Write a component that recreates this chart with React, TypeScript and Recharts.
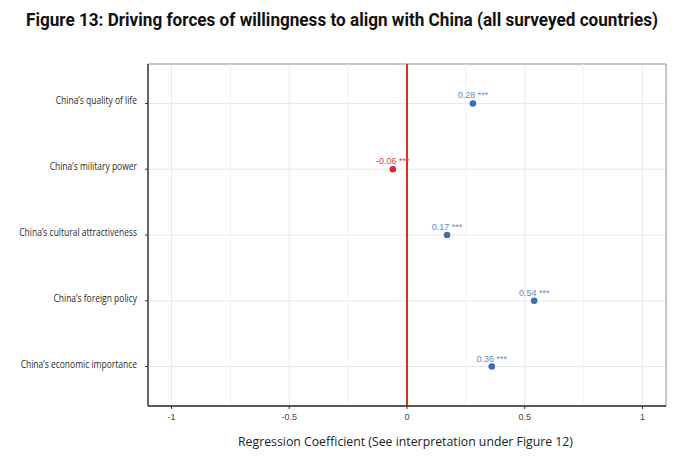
import React from "react";
import {
  ScatterChart, Scatter, XAxis, YAxis, CartesianGrid,
  ReferenceLine, ReferenceArea,
} from "recharts";

// factors from bottom to top of the plot
const factors = [
  "China’s economic importance",
  "China’s foreign policy",
  "China’s cultural attractiveness",
  "China’s military power",
  "China’s quality of life",
];
const coefficients = [0.36, 0.54, 0.17, -0.06, 0.28];
const stars = ["***", "***", "***", "***", "***"];
const xTicks = [-1, -0.5, 0, 0.5, 1];
const xMinorTicks = [-0.75, -0.25, 0.25, 0.75];
const yTicks = [1, 2, 3, 4, 5];

const data = factors.map((factor, i) => ({
  factor,
  pos: i + 1,
  coef: coefficients[i],
  sig: stars[i],
}));

const BLUE_DOT = "#3d6db3";
const BLUE_TXT = "#5d8cc8";
const RED_DOT = "#d42b2b";
const RED_TXT = "#d9413a";

const CoefDot = (props: any) => {
  const { cx, cy, payload } = props;
  if (cx == null || cy == null) return null;
  const neg = payload.coef < 0;
  return (
    <g>
      <text
        x={cx}
        y={cy - 5}
        textAnchor="middle"
        fontSize={9}
        fontFamily="'Liberation Sans', Arial, sans-serif"
        fill={neg ? RED_TXT : BLUE_TXT}
      >
        {`${payload.coef.toFixed(2)} ${payload.sig}`}
      </text>
      <circle cx={cx} cy={cy} r={3.3} fill={neg ? RED_DOT : BLUE_DOT} />
    </g>
  );
};

// narrow, unwrapped factor labels
const FactorTick = (props: any) => {
  const { x, y, payload } = props;
  return (
    <g transform={`translate(${x},${y})`}>
      <text
        x={0}
        y={0}
        dy={1}
        textAnchor="end"
        transform="scale(0.85,1)"
        fontSize={10}
        fontFamily="'Open Sans', sans-serif"
        fill="#2a2a2a"
      >
        {factors[payload.value - 1] ?? ""}
      </text>
    </g>
  );
};

export default function App() {
  return (
    <div style={{ position: "absolute", left: 0, top: 0, width: 680, height: 464, background: "#fff" }}>
      <ScatterChart
        width={680}
        height={464}
        margin={{ top: 64, right: 14, left: 0, bottom: 0 }}
      >
        <CartesianGrid stroke="#e9e9e9" strokeWidth={1} />
        {xMinorTicks.map((t) => (
          <ReferenceLine key={t} x={t} stroke="#f1f1f1" strokeWidth={1} />
        ))}
        <ReferenceArea
          x1={-1.1}
          x2={1.1}
          y1={0.4}
          y2={5.6}
          fill="none"
          stroke="#9a9a9a"
          strokeWidth={1}
          ifOverflow="visible"
        />
        <XAxis
          type="number"
          dataKey="coef"
          domain={[-1.1, 1.1]}
          ticks={xTicks}
          allowDataOverflow
          height={58}
          tickSize={3}
          tickMargin={5}
          tickFormatter={(v) => String(v)}
          tick={{ fill: "#444", fontSize: 9, fontFamily: "'Liberation Sans', Arial, sans-serif" }}
          axisLine={{ stroke: "#333", strokeWidth: 1.3 }}
          tickLine={{ stroke: "#333" }}
        />
        <YAxis
          type="number"
          dataKey="pos"
          domain={[0.4, 5.6]}
          ticks={yTicks}
          allowDataOverflow
          width={148}
          tickSize={3}
          tickMargin={8}
          tick={<FactorTick />}
          axisLine={{ stroke: "#333", strokeWidth: 1.3 }}
          tickLine={{ stroke: "#333" }}
        />
        <ReferenceLine x={0} stroke="#d7301f" strokeWidth={2} />
        <Scatter data={data} shape={<CoefDot />} isAnimationActive={false} />
      </ScatterChart>
      <svg
        width={680}
        height={464}
        style={{ position: "absolute", left: 0, top: 0, pointerEvents: "none" }}
      >
        <g transform="translate(26,26) scale(0.7,1)">
          <text
            x={0}
            y={0}
            textLength={903}
            lengthAdjust="spacingAndGlyphs"
            fontSize={19}
            fontWeight="bold"
            fontFamily="Roboto, sans-serif"
            fill="#111"
          >
            Figure 13: Driving forces of willingness to align with China (all surveyed countries)
          </text>
        </g>
        <text
          x={238}
          y={446}
          textLength={335}
          lengthAdjust="spacingAndGlyphs"
          fontSize={13.5}
          fontFamily="'Open Sans', sans-serif"
          fill="#222"
        >
          Regression Coefficient (See interpretation under Figure 12)
        </text>
      </svg>
    </div>
  );
}
